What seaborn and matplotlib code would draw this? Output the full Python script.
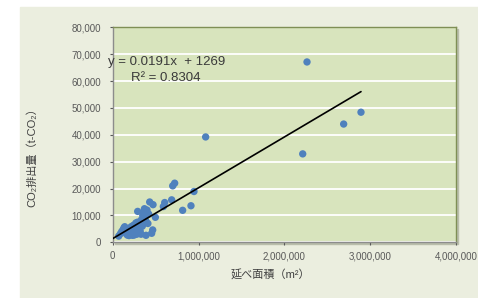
import numpy as np
import pandas as pd
import matplotlib.pyplot as plt
import seaborn as sns
from matplotlib.patches import Rectangle
from matplotlib.ticker import FuncFormatter

# データ
floor_area = [70000, 90000, 105000, 120000, 130000, 140000, 150000, 160000, 170000, 185000,
              190000, 200000, 215000, 220000, 230000, 240000, 250000, 255000, 260000, 270000,
              280000, 290000, 300000, 310000, 320000, 330000, 335000, 345000, 350000, 360000,
              370000, 375000, 385000, 400000, 410000, 420000,
              291000, 431000, 470000, 497000, 466000, 454000, 388000, 590000, 606000, 687000,
              699000, 722000, 815000, 912000, 947000, 1083000, 2214000, 2264000, 2691000, 2893000]
co2_emission = [2300, 3200, 4000, 4600, 5300, 5800, 3400, 5000, 2700, 4000,
                2500, 4600, 5800, 3300, 2600, 6300, 2700, 4000, 5000, 7200,
                3000, 7500, 5500, 6500, 4200, 3000, 8400, 6000, 10000, 11100,
                12500, 9200, 8000, 12000, 7000, 10500,
                11500, 15000, 14000, 9300, 4600, 3350, 2600, 13300, 14800, 15800,
                21000, 22000, 11900, 13600, 18900, 39200, 32900, 67100, 44000, 48400]

eq_text = 'y = 0.0191x  + 1269'
r2_text = 'R² = 0.8304'
x_ticks = [0, 1000000, 2000000, 3000000, 4000000]
y_ticks = [0, 10000, 20000, 30000, 40000, 50000, 60000, 70000, 80000]

df = pd.DataFrame({'area': floor_area, 'co2': co2_emission})

# 近似直線
slope, intercept = np.polyfit(df['area'], df['co2'], 1)
fit = pd.DataFrame({'area': [0, df['area'].max()]})
fit['co2'] = slope * fit['area'] + intercept

sns.set_theme(style='white')
plt.rcParams['font.family'] = ['Liberation Sans', 'Noto Sans CJK JP', 'DejaVu Sans']

W, H = 478, 298
fig = plt.figure(figsize=(W / 100, H / 100), dpi=100)
fig.patch.set_facecolor('white')

# 外側パネルと影
fig.patches.append(Rectangle((20 / W, 0), 1, 291 / H, transform=fig.transFigure,
                             color='#EBEEDF', zorder=-3))
left, bottom, width, height = 112.7 / W, 1 - 242.3 / H, 343.3 / W, 215 / H
fig.patches.append(Rectangle((left + 2 / W, bottom - 2 / H), width, height,
                             transform=fig.transFigure, color='#B9BEAB', zorder=-2))

ax = fig.add_axes([left, bottom, width, height])
ax.set_facecolor('#D8E4BD')

sns.scatterplot(data=df, x='area', y='co2', ax=ax, color='#4F81BD', s=28,
                edgecolor='none', zorder=3)
sns.lineplot(data=fit, x='area', y='co2', ax=ax, color='black', lw=1.2, zorder=4)

ax.set_xlim(0, 4000000)
ax.set_ylim(0, 80000)
ax.set_xticks(x_ticks)
ax.set_yticks(y_ticks)
fmt = FuncFormatter(lambda v, p: f'{v:,.0f}')
ax.xaxis.set_major_formatter(fmt)
ax.yaxis.set_major_formatter(fmt)
ax.tick_params(axis='both', labelsize=7, colors='#595959', direction='out', length=2.5, width=0.8)
ax.tick_params(axis='y', pad=6)
ax.tick_params(axis='x', pad=4)
ax.tick_params(left=True, bottom=True)

ax.yaxis.grid(True, color='white', lw=1.3)
ax.xaxis.grid(False)
ax.set_axisbelow(True)

for s in ['left', 'bottom']:
    ax.spines[s].set_color('#8C8C8C')
    ax.spines[s].set_linewidth(1)
for s in ['top', 'right']:
    ax.spines[s].set_color('#7F8F55')
    ax.spines[s].set_linewidth(1)

ax.set_xlabel('延べ面積（m²）', fontsize=8, color='#404040')
ax.set_ylabel('CO₂排出量（t-CO₂）', fontsize=8, color='#404040')
ax.xaxis.label.set_va('center')
ax.yaxis.label.set_va('center')
ax.xaxis.set_label_coords(0.458, -0.152)
ax.yaxis.set_label_coords(-0.236, 0.406)

ax.text(-0.014, 0.837, eq_text, transform=ax.transAxes, fontsize=9.5,
        color='#3A3A3A', va='center', ha='left', zorder=5)
ax.text(0.053, 0.763, r2_text, transform=ax.transAxes, fontsize=9.5,
        color='#3A3A3A', va='center', ha='left', zorder=5)

fig.savefig('out.png', dpi=100)
